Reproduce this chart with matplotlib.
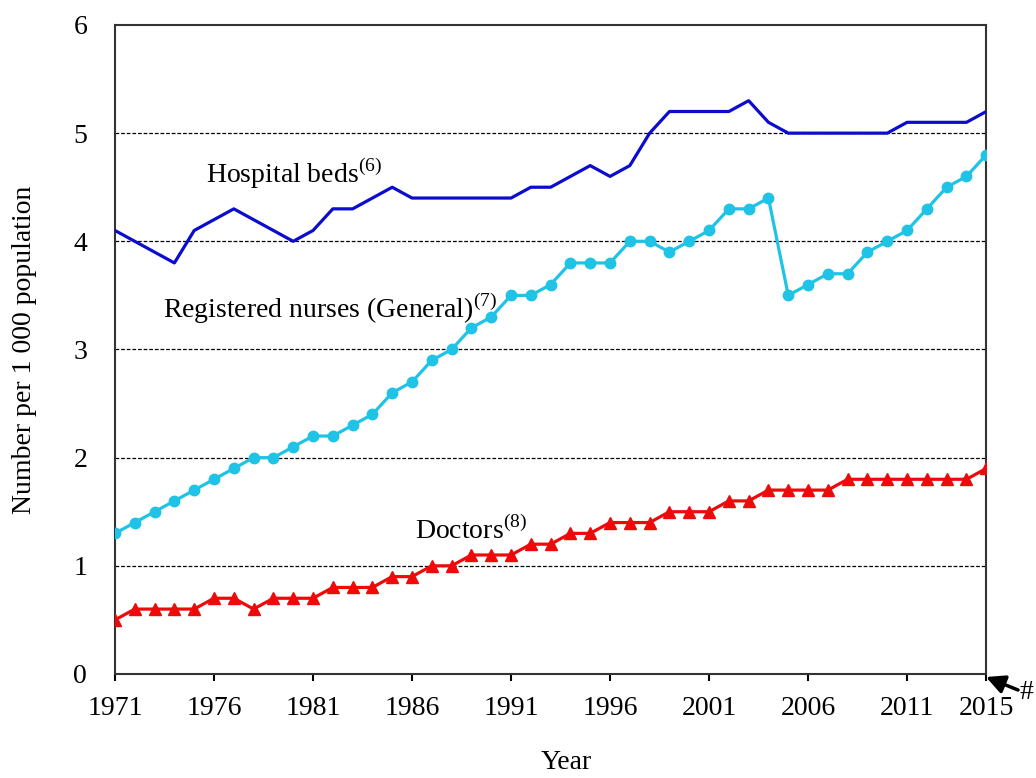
import matplotlib
matplotlib.use("Agg")
import matplotlib.pyplot as plt
import numpy as np

plt.rcParams['font.family'] = ['Liberation Serif', 'DejaVu Serif']
plt.rcParams['mathtext.fontset'] = 'custom'
plt.rcParams['mathtext.rm'] = 'Liberation Serif'

years = list(range(1971, 2016))

hospital_beds = [4.1, 4.0, 3.9, 3.8, 4.1, 4.2, 4.3, 4.2, 4.1, 4.0,
                 4.1, 4.3, 4.3, 4.4, 4.5, 4.4, 4.4, 4.4, 4.4, 4.4,
                 4.4, 4.5, 4.5, 4.6, 4.7, 4.6, 4.7, 5.0, 5.2, 5.2,
                 5.2, 5.2, 5.3, 5.1, 5.0, 5.0, 5.0, 5.0, 5.0, 5.0,
                 5.1, 5.1, 5.1, 5.1, 5.2]

nurses = [1.3, 1.4, 1.5, 1.6, 1.7, 1.8, 1.9, 2.0, 2.0, 2.1,
          2.2, 2.2, 2.3, 2.4, 2.6, 2.7, 2.9, 3.0, 3.2, 3.3,
          3.5, 3.5, 3.6, 3.8, 3.8, 3.8, 4.0, 4.0, 3.9, 4.0,
          4.1, 4.3, 4.3, 4.4, 3.5, 3.6, 3.7, 3.7, 3.9, 4.0,
          4.1, 4.3, 4.5, 4.6, 4.8]

doctors = [0.5, 0.6, 0.6, 0.6, 0.6, 0.7, 0.7, 0.6, 0.7, 0.7,
           0.7, 0.8, 0.8, 0.8, 0.9, 0.9, 1.0, 1.0, 1.1, 1.1,
           1.1, 1.2, 1.2, 1.3, 1.3, 1.4, 1.4, 1.4, 1.5, 1.5,
           1.5, 1.6, 1.6, 1.7, 1.7, 1.7, 1.7, 1.8, 1.8, 1.8,
           1.8, 1.8, 1.8, 1.8, 1.9]

xtick_years = [1971, 1976, 1981, 1986, 1991, 1996, 2001, 2006, 2011, 2015]
xtick_labels = ["1971", "1976", "1981", "1986", "1991", "1996", "2001", "2006", "2011", "2015"]

fig = plt.figure(figsize=(10.36, 7.78), dpi=100)
ax = fig.add_axes([0.111, 0.1337, 0.841, 0.8342])

for yv in [1, 2, 3, 4, 5]:
    ax.axhline(yv, color="black", linewidth=0.9, linestyle=(0, (3, 1.5)), zorder=1)

ax.plot(years, hospital_beds, color="#0C0CCF", linewidth=2.3, zorder=3)
ax.plot(years, nurses, color="#1EC3E6", linewidth=2.3, marker="o", markersize=7.5, zorder=3)
ax.plot(years, doctors, color="#EE0A0A", linewidth=2.3, marker="^", markersize=8.5, zorder=3)

ax.set_xlim(1971, 2015)
ax.set_ylim(0, 6)
ax.set_xticks(xtick_years)
ax.set_xticklabels(xtick_labels, fontsize=20)
ax.set_yticks(range(0, 7))
ax.tick_params(axis="y", length=0, pad=20, labelsize=20)
ax.tick_params(axis="x", length=5, width=1.5, direction="out", pad=11, labelsize=20)
for s in ax.spines.values():
    s.set_linewidth(1.5)
    s.set_color("#333333")

ax.text(1975.6, 4.54, r"Hospital beds$^{\mathrm{(6)}}$", fontsize=20)
ax.text(1973.4, 3.29, r"Registered nurses (General)$^{\mathrm{(7)}}$", fontsize=20)
ax.text(1986.15, 1.25, r"Doctors$^{\mathrm{(8)}}$", fontsize=20)

ax.set_ylabel("Number per 1 000 population", fontsize=20, labelpad=26)
fig.text(0.547, 0.004, "Year", fontsize=20, ha="center", va="bottom")

# marker for the 2015 figure
fig.text(1019 / 1036, 1 - 680 / 778, "#", fontsize=20, ha="left", va="top")
ax.annotate("", xy=(986 / 1036, 1 - 677 / 778), xycoords="figure fraction",
            xytext=(1018 / 1036, 1 - 690 / 778), textcoords="figure fraction",
            arrowprops=dict(arrowstyle="-|>", color="black", lw=2.5, mutation_scale=28,
                            shrinkA=0, shrinkB=0),
            annotation_clip=False)

fig.savefig("out.png", dpi=100)
